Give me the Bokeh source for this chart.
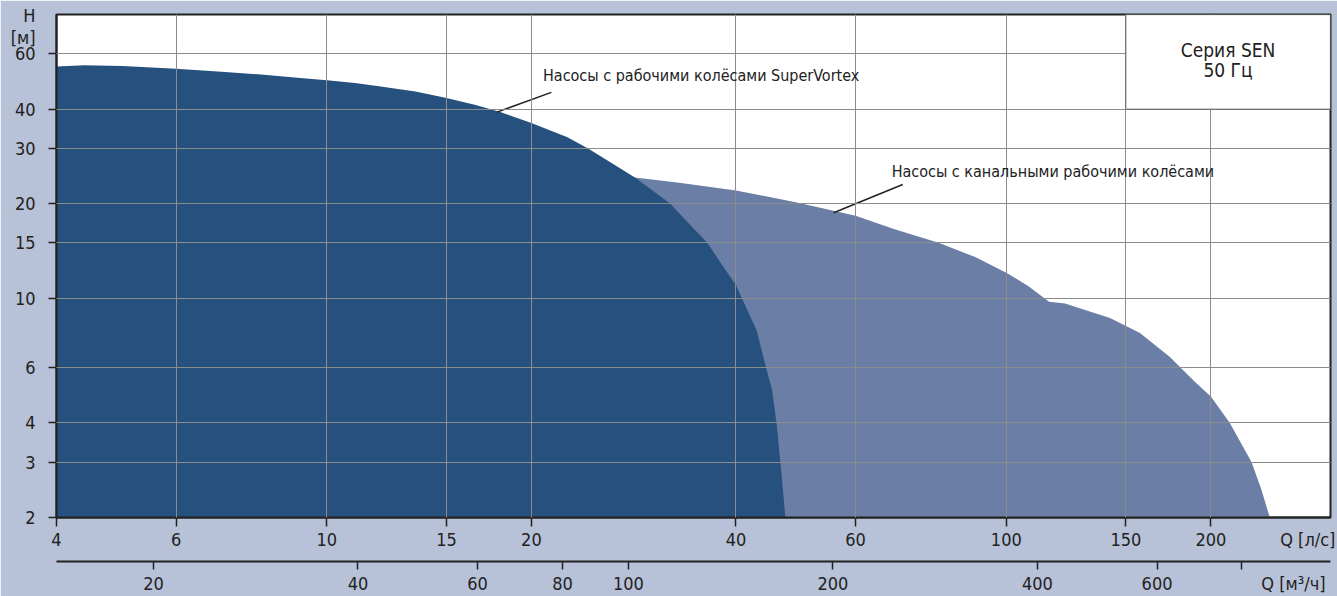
from bokeh.plotting import figure
from bokeh.models import (Range1d, LogScale, LogAxis, FixedTicker,
                          PrintfTickFormatter, Label, BoxAnnotation)
from bokeh.embed import file_html
from bokeh.resources import INLINE

# ---------------- style ----------------
BG = "#b7c1d7"
DARK = "#26517f"
LIGHT = "#6a7ea6"
INK = "#222222"
GRID = "#8c8c8c"
FONT = "DejaVu Sans Condensed"

# ---------------- data ----------------
Q_MIN, Q_MAX = 4, 300          # l/s
H_MIN, H_MAX = 2, 80           # m
M3H_PER_LS = 3.6

q_ls_ticks = [4, 6, 10, 15, 20, 40, 60, 100, 150, 200]
q_m3h_ticks = [20, 40, 60, 80, 100, 200, 400, 600]
q_m3h_unlabeled = [800]
h_ticks = [2, 3, 4, 6, 10, 15, 20, 30, 40, 60]

# axis titles sit in the tick-label rows
Q_LS_TITLE = "Q [л/с]"
Q_LS_TITLE_AT = 277.8
Q_M3H_TITLE = "Q [м³/ч]"
Q_M3H_TITLE_AT = 952.6
H_TITLE = "H"
H_TITLE_AT = 79.2
H_UNIT = "[м]"
H_UNIT_AT = 67.7

# SuperVortex impellers (dark area)
sv_q = [4.0, 4.4, 5.0, 6.0, 7.0, 8.0, 9.14, 10.0, 11.0, 12.0, 13.5, 15.0,
        16.5, 18.0, 20.0, 22.6, 24.2, 26.1, 28.4, 32.0, 33.9, 36.3, 38.3,
        40.0, 40.8, 42.9, 44.3, 45.2, 45.9, 46.5, 46.9, 47.3]
sv_h = [54.6, 55.1, 54.8, 53.7, 52.6, 51.5, 50.2, 49.4, 48.4, 47.2, 45.5, 43.4,
        41.3, 39.1, 36.1, 32.5, 30.0, 27.1, 24.2, 20.0, 17.5, 15.0, 12.6,
        11.0, 10.0, 7.9, 6.0, 5.1, 4.0, 3.0, 2.45, 2.0]

# Channel impellers (light area)
ch_q = [27.0, 28.4, 33.0, 40.0, 49.0, 60.0, 68.3, 79.5, 90.0, 100.3, 107.8,
        115.6, 122.0, 142.1, 157.3, 174.1, 189.4, 200.0, 213.3, 229.6, 237.4,
        244.2]
ch_h = [24.4, 24.2, 23.3, 22.0, 20.2, 18.3, 16.6, 15.0, 13.5, 12.0, 10.9,
        9.73, 9.6, 8.64, 7.74, 6.49, 5.41, 4.86, 4.0, 3.0, 2.45,
        2.0]

ann1_text = "Насосы с рабочими колёсами SuperVortex"
ann1_pos = (20.8, 51.1)
ann1_line_q = [21.4, 17.8]
ann1_line_h = [45.2, 39.1]

ann2_text = "Насосы с канальными рабочими колёсами"
ann2_pos = (67.8, 25.3)
ann2_line_q = [70.4, 55.7]
ann2_line_h = [23.0, 18.7]

box_q = (150, Q_MAX)
box_h = (40, H_MAX)
box_lines = ["Серия SEN", "50 Гц"]
box_text_q = 212
box_text_h = [61.8, 53.4]

# ---------------- figure ----------------
p = figure(width=1337, height=596, title=None,
           x_axis_type="log", y_axis_type="log",
           x_range=Range1d(Q_MIN, Q_MAX), y_range=Range1d(H_MIN, H_MAX),
           output_backend="svg", toolbar_location=None,
           min_border_left=56, min_border_top=14, min_border_right=7,
           min_border_bottom=78)
p.background_fill_color = "white"
p.border_fill_color = BG
p.outline_line_color = INK
p.outline_line_width = 2

# areas
p.patch(ch_q + [Q_MIN * 0.98], ch_h + [H_MIN * 0.98],
        fill_color=LIGHT, line_color=None)
p.patch(sv_q + [Q_MIN * 0.98], sv_h + [H_MIN * 0.98],
        fill_color=DARK, line_color=None)

# leader lines
p.line(ann1_line_q, ann1_line_h, line_color=INK, line_width=1.5)
p.line(ann2_line_q, ann2_line_h, line_color=INK, line_width=1.5)

# grid (above areas)
p.xgrid.ticker = FixedTicker(ticks=q_ls_ticks)
p.ygrid.ticker = FixedTicker(ticks=h_ticks)
p.xgrid.grid_line_color = GRID
p.ygrid.grid_line_color = GRID
p.xgrid.level = "guide"
p.ygrid.level = "guide"


def style_axis(ax, tick_len, standoff):
    # visible tick marks are drawn as "minor" ticks so that the axis titles
    # can live in the label row without a tick mark of their own
    ax.axis_line_color = INK
    ax.axis_line_width = 2
    ax.major_tick_line_color = None
    ax.major_tick_in = 0
    ax.major_tick_out = 0
    ax.minor_tick_line_color = INK
    ax.minor_tick_line_width = 1.5
    ax.minor_tick_in = 0
    ax.minor_tick_out = tick_len
    ax.major_label_standoff = standoff
    ax.major_label_text_font = FONT
    ax.major_label_text_font_size = "18px"
    ax.major_label_text_color = INK
    ax.formatter = PrintfTickFormatter(format="%d")


# left axis
ya = p.yaxis[0]
ya.ticker = FixedTicker(ticks=h_ticks + [H_UNIT_AT, H_TITLE_AT],
                        minor_ticks=h_ticks)
style_axis(ya, 8, 13)
ya.major_label_overrides = {H_TITLE_AT: H_TITLE, H_UNIT_AT: H_UNIT}

# bottom axis (l/s)
xa = p.xaxis[0]
xa.ticker = FixedTicker(ticks=q_ls_ticks + [Q_LS_TITLE_AT],
                        minor_ticks=q_ls_ticks)
style_axis(xa, 9, 2)
xa.major_label_overrides = {Q_LS_TITLE_AT: Q_LS_TITLE}
xa.axis_label = " "
xa.axis_label_text_font_size = "5px"
xa.axis_label_standoff = 0

# second bottom axis (m3/h)
p.extra_x_ranges = {"m3h": Range1d(Q_MIN * M3H_PER_LS, Q_MAX * M3H_PER_LS)}
p.extra_x_scales = {"m3h": LogScale()}
xa2 = LogAxis(x_range_name="m3h",
              ticker=FixedTicker(ticks=q_m3h_ticks + [Q_M3H_TITLE_AT],
                                 minor_ticks=q_m3h_ticks + q_m3h_unlabeled))
style_axis(xa2, 8, 3)
xa2.major_label_overrides = {Q_M3H_TITLE_AT: Q_M3H_TITLE}
p.add_layout(xa2, "below")

# series box
p.add_layout(BoxAnnotation(left=box_q[0], right=box_q[1],
                           bottom=box_h[0], top=box_h[1],
                           fill_color="white", fill_alpha=1.0,
                           line_color=INK, line_width=1.5))
for txt, hh in zip(box_lines, box_text_h):
    p.add_layout(Label(x=box_text_q, y=hh, text=txt, text_align="center",
                       text_baseline="middle", text_font=FONT,
                       text_font_size="19px", text_color=INK))

# annotations
for txt, pos in ((ann1_text, ann1_pos), (ann2_text, ann2_pos)):
    p.add_layout(Label(x=pos[0], y=pos[1], text=txt, text_align="left",
                       text_baseline="middle", text_font=FONT,
                       text_font_size="16px", text_color=INK))

open("out.html", "w").write(file_html(p, INLINE))
